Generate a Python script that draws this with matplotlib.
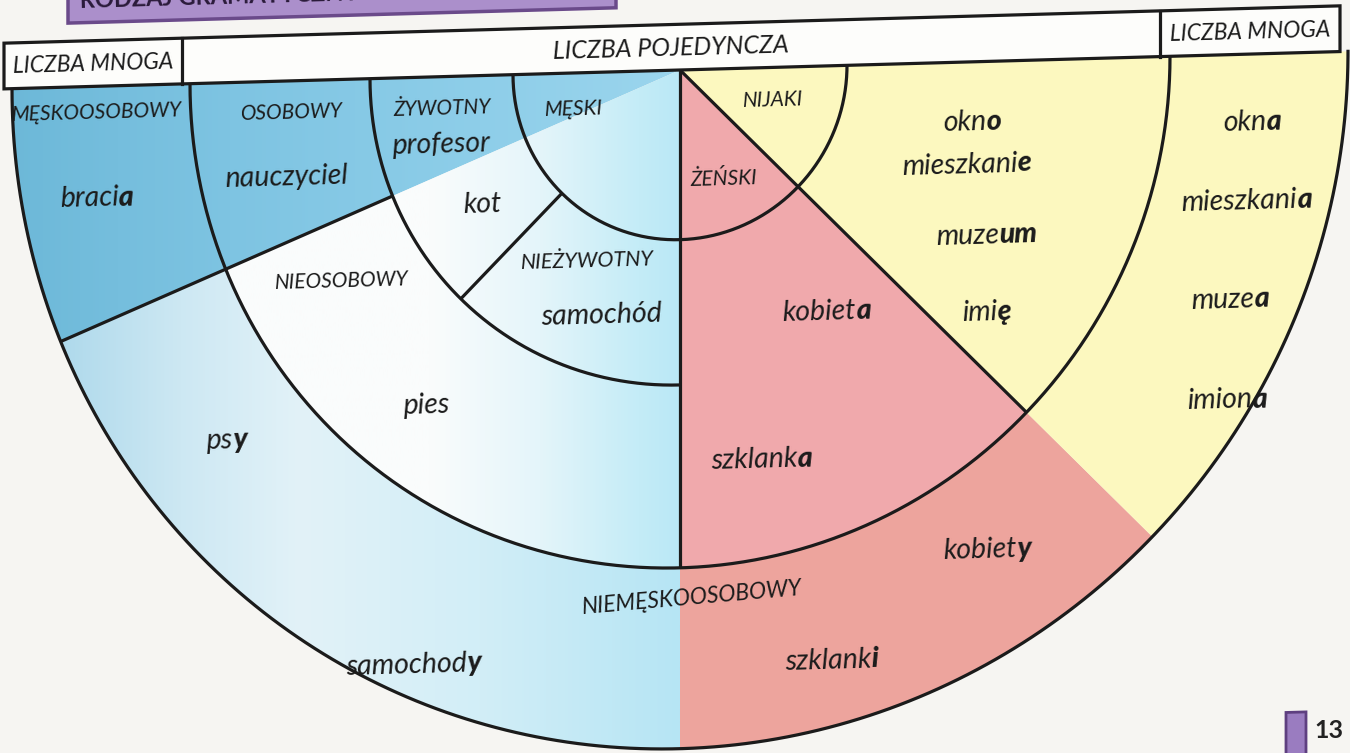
import numpy as np
import matplotlib.pyplot as plt
from matplotlib.patches import Wedge, Rectangle
from matplotlib.transforms import Affine2D

plt.rcParams['font.family'] = ['Lato', 'DejaVu Sans']

# ring edges from the centre outwards, and the sector cuts (degrees, 180 = left, 270 = down)
radii = [0, 167, 310, 490, 668]
cut_personal = 202     # męskoosobowy / reszta
cut_animate = 225      # żywotny / nieżywotny
cut_middle = 270       # męski | żeński
cut_neuter = 315       # żeński | nijaki

# black arcs: (ring edge index, from, to) and spokes: (angle, from edge, to edge)
arcs = [(1, 180, 360), (2, 180, 270), (3, 180, 360), (4, 180, 360)]
spokes = [(cut_middle, 0, 3), (cut_neuter, 0, 3), (cut_personal, 2, 4), (cut_animate, 1, 2)]

header_edges = [-676, -498, 480, 660]
header_labels = ['LICZBA MNOGA', 'LICZBA POJEDYNCZA', 'LICZBA MNOGA']

cat_labels = ['MĘSKOOSOBOWY', 'OSOBOWY', 'ŻYWOTNY', 'MĘSKI', 'NIJAKI', 'ŻEŃSKI',
              'NIEOSOBOWY', 'NIEŻYWOTNY', 'NIEMĘSKOOSOBOWY']
cat_x = [-583, -388, -238, -106, 93, 44, -338, -93, 12]
cat_y = [-26, -31, -31, -36, -32, -109, -199, -186, -520]
cat_rot = [1.6, 1.6, 1.6, 1.6, 1.6, 1.6, 1.6, 1.6, 5]
cat_size = [15, 15, 15, 15, 15, 15, 15, 15.5, 16.5]

stems = ['braci', 'nauczyciel', 'profesor', 'kot', 'samochód', 'pies', 'ps', 'samochod',
         'okn', 'mieszkani', 'muze', 'imi', 'kobiet', 'szklank',
         'okn', 'mieszkani', 'muze', 'imion', 'kobiet', 'szklank']
endings = ['a', '', '', '', '', '', 'y', 'y',
           'o', 'e', 'um', 'ę', 'a', 'a',
           'a', 'a', 'a', 'a', 'y', 'i']
word_x = [-583, -393, -238, -198, -78, -253, -453, -266,
          292, 287, 307, 307, 147, 82,
          572, 567, 550, 547, 307, 152]
word_y = [-110, -95, -67, -127, -239, -323, -352, -578,
          -59, -101, -171, -247, -242, -386,
          -67, -145, -241, -340, -481, -585]

ink = '#1b1b1b'
blue_stops = [(-676, (108, 184, 216)), (-450, (126, 196, 226)), (-200, (142, 206, 233)), (0, (155, 213, 237))]
inner_stops = [(-460, (250, 252, 252)), (-250, (250, 252, 252)), (-140, (228, 245, 250)),
               (-40, (196, 236, 247)), (0, (186, 232, 246))]
outer_stops = [(-630, (172, 216, 235)), (-500, (205, 232, 243)), (-380, (226, 242, 248)),
               (-200, (210, 238, 247)), (0, (182, 229, 244))]
pink_in, pink_out, yellow = '#f0a9ac', '#eda49d', '#fcf8bf'

fig = plt.figure(figsize=(13.5, 7.53), dpi=100)
fig.patch.set_facecolor('#f6f5f2')
ax = fig.add_axes([0, 0, 1, 1])
ax.axis('off')
# the page is photographed slightly slanted
tr = Affine2D().scale(1, 1.016).skew_deg(0, 1.6) + ax.transData


def ramp(stops):
    xs = np.linspace(stops[0][0], stops[-1][0], 300)
    pos = [p for p, c in stops]
    cols = np.array([c for p, c in stops]) / 255
    img = np.stack([np.interp(xs, pos, cols[:, i]) for i in range(3)], axis=-1)
    return img[np.newaxis, :, :], (stops[0][0], stops[-1][0], -700, 10)


def shaded(stops, r_in, r_out, t1, t2):
    clip = Wedge((0, 0), r_out, t1, t2, width=r_out - r_in, transform=tr)
    img, ext = ramp(stops)
    im = ax.imshow(img, extent=ext, origin='lower', aspect='auto',
                   interpolation='bilinear', zorder=1)
    im.set_transform(tr)
    im.set_clip_path(clip)


shaded(blue_stops, 0, radii[4], 180, cut_personal)
shaded(inner_stops, 0, radii[3], cut_personal, cut_middle)
shaded(outer_stops, radii[3], radii[4], cut_personal, cut_middle)
for r_in, r_out, col in [(0, radii[3], pink_in), (radii[3], radii[4], pink_out)]:
    ax.add_patch(Wedge((0, 0), r_out, cut_middle, cut_neuter, width=r_out - r_in,
                       facecolor=col, edgecolor='none', transform=tr, zorder=1))
ax.add_patch(Wedge((0, 0), radii[4], cut_neuter, 360, facecolor=yellow,
                   edgecolor='none', transform=tr, zorder=1))

for i, a, b in arcs:
    th = np.radians(np.linspace(a, b, 400))
    ax.plot(radii[i] * np.cos(th), radii[i] * np.sin(th), color=ink, lw=2.3,
            transform=tr, zorder=3)
for ang, i, j in spokes:
    c, s = np.cos(np.radians(ang)), np.sin(np.radians(ang))
    ax.plot([radii[i] * c, radii[j] * c], [radii[i] * s, radii[j] * s], color=ink,
            lw=2.3, transform=tr, zorder=3, solid_capstyle='butt')

# header band
hh = 45
ax.add_patch(Rectangle((header_edges[0], 0), header_edges[-1] - header_edges[0], hh,
                       facecolor='#fdfdfb', edgecolor=ink, lw=2.3, transform=tr, zorder=3))
for xe in header_edges[1:-1]:
    ax.plot([xe, xe], [0, hh], color=ink, lw=2.3, transform=tr, zorder=4)
for k, lab in enumerate(header_labels):
    ax.text((header_edges[k] + header_edges[k + 1]) / 2, hh / 2 - 1, lab, transform=tr,
            ha='center', va='center', fontsize=16.5 if k != 1 else 18, style='italic',
            color=ink, rotation=1.6, rotation_mode='anchor', zorder=5)

# title box cut by the top of the photo
ax.add_patch(Rectangle((-612, 63), 548, 100, facecolor='#ab8fcb', edgecolor='#6a4a8a',
                       lw=2.5, transform=tr, zorder=3))
ax.text(-600, 78, 'RODZAJ GRAMATYCZNY', transform=tr, ha='left', va='baseline',
        fontsize=17, weight='bold', color='#2b1b3a', rotation=1.6,
        rotation_mode='anchor', zorder=5)

for lab, x, y, rot, fs in zip(cat_labels, cat_x, cat_y, cat_rot, cat_size):
    ax.text(x, y, lab, transform=tr, ha='center', va='center', fontsize=fs,
            style='italic', color=ink, rotation=rot, rotation_mode='anchor', zorder=5)

ren = fig.canvas.get_renderer()
for s, e, x, y in zip(stems, endings, word_x, word_y):
    a = ax.text(0, 0, s, transform=tr, ha='left', va='baseline', fontsize=20.5,
                style='italic', color=ink, rotation_mode='anchor', zorder=5)
    wa = a.get_window_extent(ren).width
    wb = 0
    if e:
        b = ax.text(0, 0, e, transform=tr, ha='left', va='baseline', fontsize=20.5,
                    style='italic', weight='black', color=ink, rotation_mode='anchor', zorder=5)
        wb = b.get_window_extent(ren).width
    x0 = x - (wa + wb) / 2
    a.set_position((x0, y - 8))
    a.set_rotation(1.6)
    if e:
        b.set_position((x0 + wa, y - 8))
        b.set_rotation(1.6)

# page number
ax.add_patch(Rectangle((606, -700), 20, 51, facecolor='#9a7cc0', edgecolor='#5e3f80',
                       lw=2, transform=tr, zorder=3))
ax.text(634, -668, '13', transform=tr, ha='left', va='center', fontsize=18,
        weight='bold', color='#222222', zorder=5)

ax.set_xlim(-680, 670)
ax.set_ylim(-683, 70)
fig.savefig('out.png', dpi=100, facecolor=fig.get_facecolor())
